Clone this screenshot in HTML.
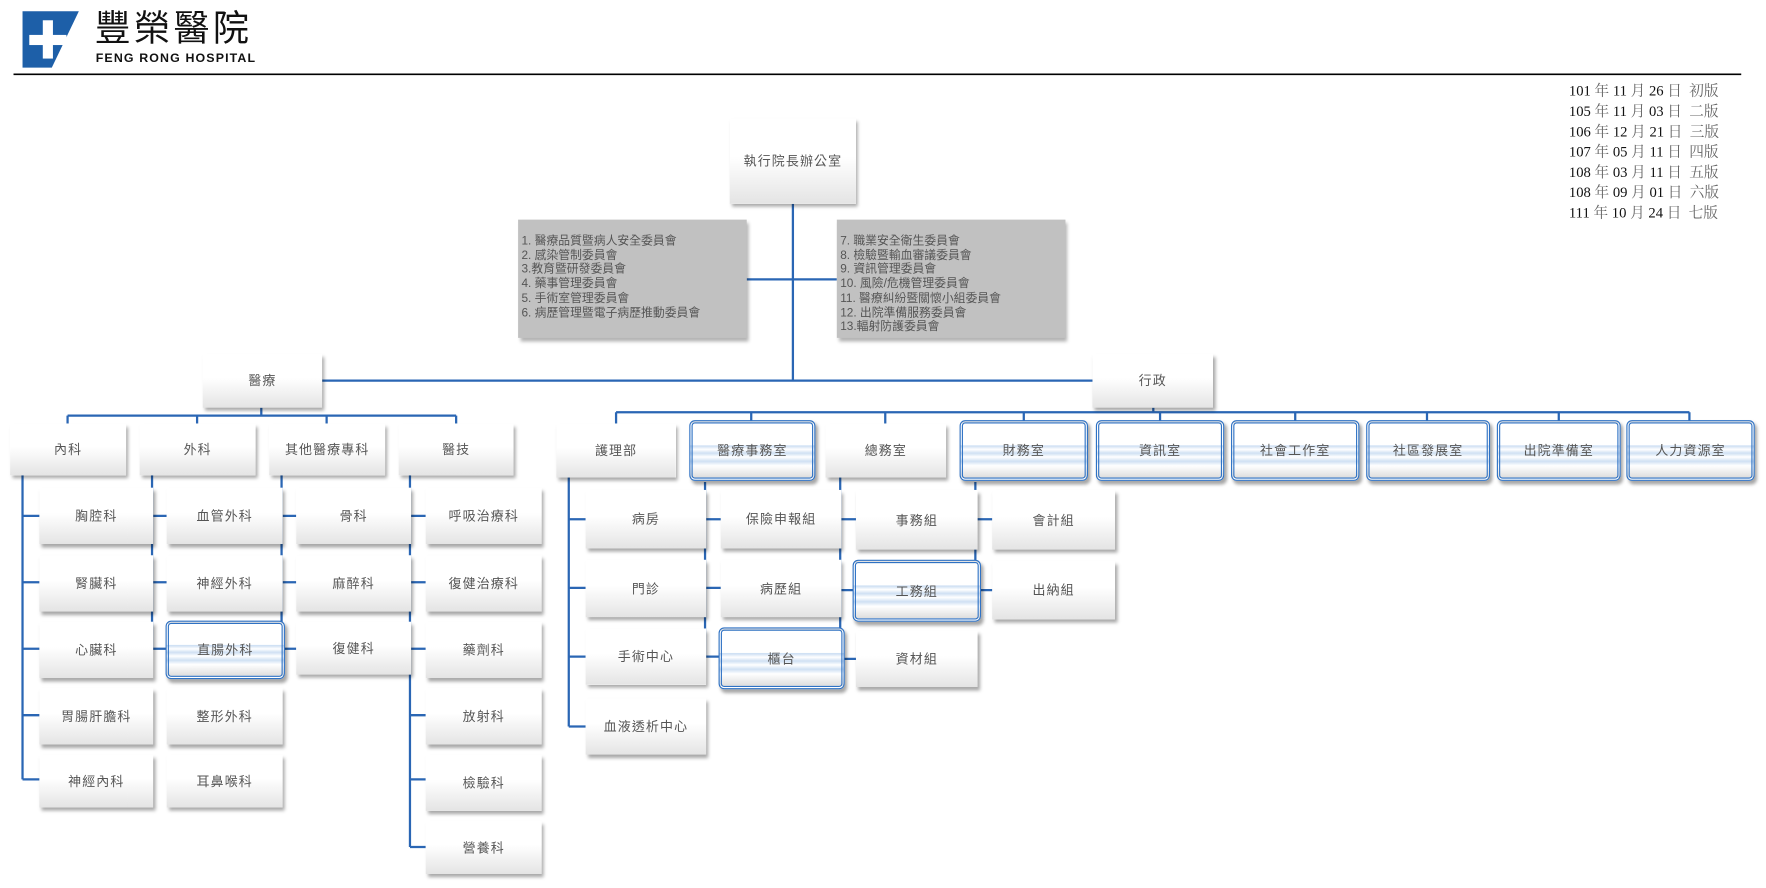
<!DOCTYPE html>
<html><head><meta charset="utf-8"><style>
html,body{margin:0;padding:0;background:#fff;width:1766px;height:888px;overflow:hidden}
#s{position:absolute;left:0;top:0;width:1568px;height:788px;transform:scale(1.12628);transform-origin:0 0;font-family:"Liberation Sans","Noto Sans CJK TC",sans-serif}
.b{position:absolute;box-sizing:border-box;background:linear-gradient(#fff 0%,#fff 45%,#e4e4e4 100%);box-shadow:2px 3px 3px rgba(0,0,0,.35);display:flex;align-items:center;justify-content:center;font-size:11.5px;color:#555;letter-spacing:1px}
.h{border:3px double #2f72c4;border-radius:5px;background:linear-gradient(#fff 0%,#fff 40%,#c9dcf2 41%,#fff 48%,#cfe0f3 55%,#fff 62%,#cfe0f3 70%,#fff 78%,#ddd 100%)}
.c{position:absolute;background:#c1c1c1;box-shadow:2px 3px 3px rgba(0,0,0,.3);font-size:10.5px;color:#555;line-height:12.7px;padding:13px 0 0 3px;box-sizing:border-box;white-space:pre}
svg{position:absolute;left:0;top:0}
.d{position:absolute;left:1393px;top:72px;font-family:"Liberation Serif","Noto Serif CJK SC",serif;font-size:13px;line-height:18px;color:#111;white-space:pre}
.d span{color:#666}
</style></head><body><div id="s">
<svg width="1568" height="788">
<polygon points="20,10 70,10 46,60 20,60" fill="#1d5fa8"/>
<rect x="38" y="18" width="9" height="34" fill="#fff"/><rect x="26" y="31" width="33" height="9" fill="#fff"/>
<line x1="12" y1="66" x2="1546" y2="66" stroke="#000" stroke-width="1.5"/>
<g stroke="#2a66b4" stroke-width="2" fill="none">
<path d="M704 181V338M663 248H743M286 338H970"/>
<path d="M60 369H405M232 362V369M60 369V376M175 369V376M290 369V376M405 369V376"/>
<path d="M1024 362V366M547 366H1500M547 366V376M667 366V376M786 366V376M909 366V376M1030 366V376M1150 366V376M1267 366V376M1384 366V376M1500 366V376"/>
<path d="M20 422V692M20 458H35M20 517H35M20 576H35M20 635H35M20 692H35"/>
<path d="M135 422V576M135 458H148M135 517H148M135 576H148"/>
<path d="M250 422V576M250 458H263M250 517H263M250 576H263"/>
<path d="M364 422V752M364 458H378M364 517H378M364 576H378M364 635H378M364 692H378M364 752H378"/>
<path d="M505 424V645M505 461H520M505 522H520M505 583H520M505 645H520"/>
<path d="M626 428V583M626 461H640M626 522H640M626 583H640"/>
<path d="M746 424V583M746 461H760M746 524H760M746 585H760"/>
<path d="M866 428V524M866 461H881M866 524H881"/>
</g>
</svg>
<div style="position:absolute;left:84px;top:6px;font-size:32px;letter-spacing:3px;color:#111;line-height:38px">豐榮醫院</div>
<div style="position:absolute;left:85px;top:46px;font-size:11px;font-weight:bold;color:#111;letter-spacing:1px">FENG RONG HOSPITAL</div>
<div class="d">101 <span>年</span> 11 <span>月</span> 26 <span>日  初版</span>
105 <span>年</span> 11 <span>月</span> 03 <span>日  二版</span>
106 <span>年</span> 12 <span>月</span> 21 <span>日  三版</span>
107 <span>年</span> 05 <span>月</span> 11 <span>日  四版</span>
108 <span>年</span> 03 <span>月</span> 11 <span>日  五版</span>
108 <span>年</span> 09 <span>月</span> 01 <span>日  六版</span>
111 <span>年</span> 10 <span>月</span> 24 <span>日  七版</span></div>
<div class="b" style="left:648px;top:105px;width:112px;height:76px">執行院長辦公室</div>
<div class="c" style="left:460px;top:195px;width:203px;height:105px">1. 醫療品質暨病人安全委員會
2. 感染管制委員會
3.教育暨研發委員會
4. 藥事管理委員會
5. 手術室管理委員會
6. 病歷管理暨電子病歷推動委員會</div>
<div class="c" style="left:743px;top:195px;width:203px;height:105px">7. 職業安全衛生委員會
8. 檢驗暨輸血審議委員會
9. 資訊管理委員會
10. 風險/危機管理委員會
11. 醫療糾紛暨關懷小組委員會
12. 出院準備服務委員會
13.輻射防護委員會</div>
<div class="b" style="left:180px;top:314px;width:106px;height:48px">醫療</div>
<div class="b" style="left:970px;top:314px;width:107px;height:48px">行政</div>

<div class="b" style="left:9px;top:376px;width:103px;height:46px">內科</div>
<div class="b" style="left:124px;top:376px;width:103px;height:46px">外科</div>
<div class="b" style="left:239px;top:376px;width:103px;height:46px">其他醫療專科</div>
<div class="b" style="left:354px;top:376px;width:102px;height:46px">醫技</div>

<div class="b" style="left:35px;top:433px;width:101px;height:50px">胸腔科</div>
<div class="b" style="left:35px;top:493px;width:101px;height:50px">腎臟科</div>
<div class="b" style="left:35px;top:552px;width:101px;height:50px">心臟科</div>
<div class="b" style="left:35px;top:611px;width:101px;height:50px">胃腸肝膽科</div>
<div class="b" style="left:35px;top:670px;width:101px;height:47px">神經內科</div>
<div class="b" style="left:148px;top:433px;width:103px;height:50px">血管外科</div>
<div class="b" style="left:148px;top:493px;width:103px;height:50px">神經外科</div>
<div class="b h" style="left:147px;top:551px;width:106px;height:52px">直腸外科</div>
<div class="b" style="left:148px;top:611px;width:103px;height:50px">整形外科</div>
<div class="b" style="left:148px;top:670px;width:103px;height:47px">耳鼻喉科</div>
<div class="b" style="left:263px;top:433px;width:102px;height:50px">骨科</div>
<div class="b" style="left:263px;top:493px;width:102px;height:50px">麻醉科</div>
<div class="b" style="left:263px;top:552px;width:102px;height:47px">復健科</div>
<div class="b" style="left:378px;top:433px;width:103px;height:50px">呼吸治療科</div>
<div class="b" style="left:378px;top:493px;width:103px;height:50px">復健治療科</div>
<div class="b" style="left:378px;top:552px;width:103px;height:50px">藥劑科</div>
<div class="b" style="left:378px;top:611px;width:103px;height:50px">放射科</div>
<div class="b" style="left:378px;top:670px;width:103px;height:50px">檢驗科</div>
<div class="b" style="left:378px;top:729px;width:103px;height:47px">營養科</div>

<div class="b" style="left:494px;top:376px;width:106px;height:48px">護理部</div>
<div class="b h" style="left:612px;top:373px;width:112px;height:54px">醫療事務室</div>
<div class="b" style="left:733px;top:376px;width:107px;height:48px">總務室</div>
<div class="b h" style="left:852px;top:373px;width:114px;height:54px">財務室</div>
<div class="b h" style="left:973px;top:373px;width:114px;height:54px">資訊室</div>
<div class="b h" style="left:1093px;top:373px;width:114px;height:54px">社會工作室</div>
<div class="b h" style="left:1213px;top:373px;width:110px;height:54px">社區發展室</div>
<div class="b h" style="left:1329px;top:373px;width:110px;height:54px">出院準備室</div>
<div class="b h" style="left:1444px;top:373px;width:114px;height:54px">人力資源室</div>

<div class="b" style="left:520px;top:435px;width:107px;height:52px">病房</div>
<div class="b" style="left:520px;top:497px;width:107px;height:51px">門診</div>
<div class="b" style="left:520px;top:558px;width:107px;height:50px">手術中心</div>
<div class="b" style="left:520px;top:620px;width:107px;height:50px">血液透析中心</div>
<div class="b" style="left:640px;top:435px;width:107px;height:52px">保險申報組</div>
<div class="b" style="left:640px;top:497px;width:107px;height:51px">病歷組</div>
<div class="b h" style="left:638px;top:557px;width:112px;height:55px">櫃台</div>
<div class="b" style="left:760px;top:435px;width:108px;height:53px">事務組</div>
<div class="b h" style="left:757px;top:497px;width:114px;height:55px">工務組</div>
<div class="b" style="left:760px;top:560px;width:108px;height:50px">資材組</div>
<div class="b" style="left:881px;top:435px;width:109px;height:53px">會計組</div>
<div class="b" style="left:881px;top:498px;width:109px;height:52px">出納組</div>
</div></body></html>
